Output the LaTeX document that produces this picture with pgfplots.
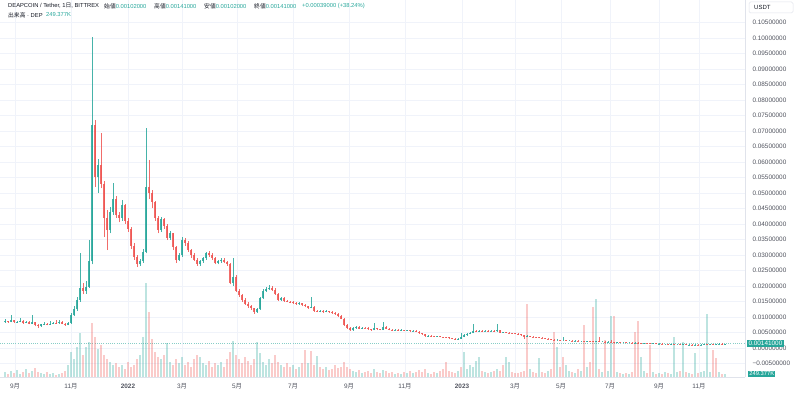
\documentclass[border=0pt]{standalone}
\usepackage{pgfplots}
\pgfplotsset{compat=1.18}
\usepackage{pgfplotstable}
\usepackage{fontspec}
\setmainfont{Liberation Sans}
\newfontfamily\cjk{Noto Sans CJK JP}
\newcommand\M{{\cjk 月}}
\definecolor{upc}{HTML}{26A69A}
\definecolor{dnc}{HTML}{EF5350}
\definecolor{gridc}{HTML}{F0F3FA}
\definecolor{axc}{HTML}{E0E3EB}
\definecolor{txt}{HTML}{131722}
\definecolor{lbl}{HTML}{50535E}
\pgfplotstableread{
x o h l c u v w
5 0.0084 0.0093 0.0082 0.0086 1 5 1
8 0.0086 0.0088 0.0081 0.0084 0 3 0
11 0.0084 0.0105 0.0083 0.0089 1 6 1
14 0.0089 0.0091 0.0080 0.0083 0 4 0
17 0.0083 0.0088 0.0081 0.0085 1 7 1
20 0.0085 0.0098 0.0083 0.0087 1 3 1
23 0.0087 0.0089 0.0079 0.0082 0 5 0
26 0.0082 0.0088 0.0080 0.0085 1 8 1
29 0.0085 0.0087 0.0076 0.0079 0 4 0
32 0.0079 0.0108 0.0077 0.0083 1 6 1
35 0.0083 0.0085 0.0070 0.0074 0 9 0
38 0.0074 0.0078 0.0064 0.0070 0 5 0
41 0.0070 0.0079 0.0068 0.0076 1 4 1
44 0.0076 0.0084 0.0074 0.0079 1 3 1
47 0.0079 0.0081 0.0073 0.0076 0 5 0
50 0.0076 0.0086 0.0075 0.0079 1 3 1
53 0.0079 0.0084 0.0077 0.0081 1 4 1
56 0.0081 0.0089 0.0078 0.0080 0 2 0
59 0.0080 0.0090 0.0079 0.0084 1 3 1
62 0.0084 0.0086 0.0076 0.0078 0 4 0
65 0.0078 0.0080 0.0071 0.0075 0 6 0
68 0.0075 0.0083 0.0073 0.0080 1 12 1
71 0.0080 0.0113 0.0079 0.0105 1 25 1
74 0.0105 0.0135 0.0102 0.0125 1 18 1
77 0.0125 0.0165 0.0120 0.0155 1 30 1
80 0.0155 0.0306 0.0150 0.0195 1 44 1
83 0.0195 0.0210 0.0173 0.0185 0 22 0
86 0.0185 0.0215 0.0175 0.0198 1 30 1
89 0.0198 0.0350 0.0195 0.0280 1 35 1
92 0.0280 0.1003 0.0270 0.0720 1 54 0
95 0.0720 0.0735 0.0520 0.0550 0 40 0
98 0.0550 0.0610 0.0500 0.0590 1 28 1
101 0.0590 0.0694 0.0515 0.0530 0 32 0
104 0.0530 0.0540 0.0358 0.0420 0 22 0
107 0.0420 0.0445 0.0316 0.0380 0 18 0
110 0.0380 0.0455 0.0370 0.0440 1 15 1
113 0.0440 0.0532 0.0430 0.0480 1 12 1
116 0.0480 0.0490 0.0420 0.0430 0 14 0
119 0.0430 0.0440 0.0405 0.0420 0 10 0
122 0.0420 0.0477 0.0410 0.0460 1 12 1
125 0.0460 0.0465 0.0400 0.0410 0 8 0
128 0.0410 0.0420 0.0375 0.0385 0 15 0
131 0.0385 0.0390 0.0320 0.0330 0 10 0
134 0.0330 0.0340 0.0285 0.0295 0 12 0
137 0.0295 0.0300 0.0261 0.0270 0 18 0
140 0.0270 0.0288 0.0265 0.0280 1 22 1
143 0.0280 0.0320 0.0275 0.0310 1 40 1
146 0.0310 0.0710 0.0305 0.0520 1 94 1
149 0.0520 0.0606 0.0480 0.0500 0 65 0
152 0.0500 0.0510 0.0450 0.0470 0 38 0
155 0.0470 0.0475 0.0410 0.0420 0 25 0
158 0.0420 0.0425 0.0370 0.0380 0 20 0
161 0.0380 0.0423 0.0375 0.0415 1 18 1
164 0.0415 0.0420 0.0385 0.0395 0 22 0
167 0.0395 0.0400 0.0348 0.0355 0 34 1
170 0.0355 0.0378 0.0350 0.0370 1 15 1
173 0.0370 0.0372 0.0316 0.0325 0 12 0
176 0.0325 0.0330 0.0274 0.0285 0 18 0
179 0.0285 0.0308 0.0280 0.0300 1 14 1
182 0.0300 0.0358 0.0295 0.0350 1 20 1
185 0.0350 0.0355 0.0330 0.0340 0 12 0
188 0.0340 0.0345 0.0310 0.0315 0 15 0
191 0.0315 0.0320 0.0290 0.0300 0 10 0
194 0.0300 0.0305 0.0280 0.0285 0 18 0
197 0.0285 0.0290 0.0265 0.0270 0 22 0
200 0.0270 0.0285 0.0265 0.0280 1 20 1
203 0.0280 0.0295 0.0275 0.0290 1 14 1
206 0.0290 0.0310 0.0285 0.0305 1 12 1
209 0.0305 0.0312 0.0295 0.0300 0 16 0
212 0.0300 0.0305 0.0285 0.0290 0 10 0
215 0.0290 0.0295 0.0270 0.0275 0 14 0
218 0.0275 0.0285 0.0270 0.0280 1 12 1
221 0.0280 0.0290 0.0275 0.0285 1 15 1
224 0.0285 0.0290 0.0273 0.0278 0 10 0
227 0.0278 0.0282 0.0265 0.0270 0 18 0
230 0.0270 0.0273 0.0205 0.0210 0 25 0
233 0.0210 0.0290 0.0200 0.0230 1 36 1
236 0.0230 0.0235 0.0180 0.0185 0 22 0
239 0.0185 0.0190 0.0165 0.0170 0 18 0
242 0.0170 0.0175 0.0150 0.0155 0 14 0
245 0.0155 0.0160 0.0140 0.0143 0 20 0
248 0.0143 0.0148 0.0130 0.0135 0 16 0
251 0.0135 0.0138 0.0123 0.0128 0 12 0
254 0.0128 0.0130 0.0110 0.0116 0 18 0
257 0.0116 0.0130 0.0113 0.0125 1 35 1
260 0.0125 0.0165 0.0123 0.0160 1 24 1
263 0.0160 0.0190 0.0158 0.0185 1 15 1
266 0.0185 0.0198 0.0182 0.0190 1 12 1
269 0.0190 0.0203 0.0187 0.0195 1 18 1
272 0.0195 0.0199 0.0184 0.0188 0 14 0
275 0.0188 0.0192 0.0172 0.0175 0 22 0
278 0.0175 0.0178 0.0152 0.0155 0 15 0
281 0.0155 0.0165 0.0152 0.0160 1 12 1
284 0.0160 0.0164 0.0149 0.0152 0 10 0
287 0.0152 0.0156 0.0147 0.0150 0 14 0
290 0.0150 0.0153 0.0145 0.0148 0 10 0
293 0.0148 0.0151 0.0143 0.0146 0 12 1
296 0.0146 0.0149 0.0140 0.0143 0 8 0
299 0.0143 0.0148 0.0140 0.0144 1 10 1
302 0.0144 0.0146 0.0135 0.0138 0 14 0
305 0.0138 0.0141 0.0131 0.0134 0 27 0
308 0.0134 0.0137 0.0127 0.0130 0 14 1
311 0.0130 0.0165 0.0128 0.0133 1 26 0
314 0.0133 0.0135 0.0117 0.0120 0 12 0
317 0.0120 0.0123 0.0115 0.0118 0 21 1
320 0.0118 0.0122 0.0115 0.0119 1 10 0
323 0.0119 0.0121 0.0114 0.0117 0 8 0
326 0.0117 0.0121 0.0115 0.0118 1 10 1
329 0.0118 0.0120 0.0113 0.0116 0 7 0
332 0.0116 0.0118 0.0111 0.0114 0 8 0
335 0.0114 0.0116 0.0107 0.0110 0 12 0
338 0.0110 0.0112 0.0100 0.0103 0 9 0
341 0.0103 0.0105 0.0092 0.0095 0 10 0
344 0.0095 0.0097 0.0072 0.0075 0 15 0
347 0.0075 0.0077 0.0062 0.0065 0 10 0
350 0.0065 0.0068 0.0055 0.0058 0 8 0
353 0.0058 0.0067 0.0056 0.0064 1 6 1
356 0.0064 0.0071 0.0062 0.0068 1 5 1
359 0.0068 0.0070 0.0060 0.0062 0 7 0
362 0.0062 0.0069 0.0060 0.0066 1 4 1
365 0.0066 0.0069 0.0063 0.0065 0 5 0
368 0.0065 0.0067 0.0058 0.0060 0 6 0
371 0.0060 0.0062 0.0056 0.0058 0 4 0
374 0.0058 0.0080 0.0057 0.0064 1 8 1
377 0.0064 0.0066 0.0058 0.0060 0 5 0
380 0.0060 0.0062 0.0057 0.0059 0 4 0
383 0.0059 0.0084 0.0058 0.0068 1 7 1
386 0.0068 0.0070 0.0060 0.0062 0 6 0
389 0.0062 0.0064 0.0057 0.0059 0 4 0
392 0.0059 0.0061 0.0056 0.0058 0 5 0
395 0.0058 0.0061 0.0057 0.0059 1 3 1
398 0.0059 0.0060 0.0055 0.0057 0 4 0
401 0.0057 0.0060 0.0056 0.0058 1 3 1
404 0.0058 0.0059 0.0054 0.0056 0 5 0
407 0.0056 0.0059 0.0055 0.0057 1 4 1
410 0.0057 0.0058 0.0053 0.0055 0 6 0
413 0.0055 0.0058 0.0054 0.0056 1 4 1
416 0.0056 0.0057 0.0051 0.0053 0 5 0
419 0.0053 0.0054 0.0046 0.0048 0 7 0
422 0.0048 0.0049 0.0042 0.0044 0 5 0
425 0.0044 0.0045 0.0035 0.0038 0 8 0
428 0.0038 0.0043 0.0037 0.0040 1 4 1
431 0.0040 0.0041 0.0037 0.0039 0 3 0
434 0.0039 0.0040 0.0035 0.0037 0 5 0
437 0.0037 0.0040 0.0036 0.0038 1 4 1
440 0.0038 0.0039 0.0034 0.0036 0 6 0
443 0.0036 0.0037 0.0033 0.0035 0 8 0
446 0.0035 0.0036 0.0032 0.0034 0 15 0
449 0.0034 0.0035 0.0030 0.0032 0 6 0
452 0.0032 0.0033 0.0028 0.0030 0 5 0
455 0.0030 0.0031 0.0027 0.0029 0 4 0
458 0.0029 0.0032 0.0027 0.0030 1 6 1
461 0.0030 0.0048 0.0029 0.0036 1 10 0
464 0.0036 0.0044 0.0034 0.0042 1 25 1
467 0.0042 0.0048 0.0040 0.0046 1 8 1
470 0.0046 0.0051 0.0044 0.0048 1 12 1
473 0.0048 0.0077 0.0047 0.0056 1 10 1
476 0.0056 0.0059 0.0053 0.0055 0 16 1
479 0.0055 0.0059 0.0053 0.0056 1 20 1
482 0.0056 0.0058 0.0053 0.0055 0 6 0
485 0.0055 0.0058 0.0054 0.0056 1 5 1
488 0.0056 0.0057 0.0053 0.0055 0 4 0
491 0.0055 0.0058 0.0054 0.0056 1 5 1
494 0.0056 0.0057 0.0052 0.0054 0 6 0
497 0.0054 0.0076 0.0053 0.0057 1 8 1
500 0.0057 0.0058 0.0048 0.0050 0 6 0
503 0.0050 0.0053 0.0049 0.0051 1 12 0
506 0.0051 0.0052 0.0048 0.0050 0 20 1
509 0.0050 0.0051 0.0047 0.0049 0 15 1
512 0.0049 0.0050 0.0046 0.0048 0 5 0
515 0.0048 0.0049 0.0044 0.0046 0 4 0
518 0.0046 0.0047 0.0042 0.0044 0 4 0
521 0.0044 0.0045 0.0040 0.0042 0 5 0
524 0.0042 0.0043 0.0030 0.0036 0 6 0
527 0.0036 0.0041 0.0034 0.0039 1 73 0
530 0.0039 0.0040 0.0035 0.0037 0 8 1
533 0.0037 0.0038 0.0034 0.0036 0 5 0
536 0.0036 0.0037 0.0033 0.0035 0 4 0
539 0.0035 0.0036 0.0032 0.0033 0 19 1
542 0.0033 0.0034 0.0031 0.0032 0 5 0
545 0.0032 0.0033 0.0029 0.0030 0 4 0
548 0.0030 0.0031 0.0028 0.0029 0 6 1
551 0.0029 0.0030 0.0026 0.0027 0 8 0
554 0.0027 0.0030 0.0025 0.0026 0 45 0
557 0.0026 0.0028 0.0024 0.0026 1 30 1
560 0.0026 0.0027 0.0024 0.0025 0 10 0
563 0.0025 0.0035 0.0024 0.0025 1 20 0
566 0.0025 0.0026 0.0023 0.0024 0 12 1
569 0.0024 0.0025 0.0023 0.0024 1 6 1
572 0.0024 0.0025 0.0022 0.0023 0 5 0
575 0.0023 0.0025 0.0022 0.0024 1 4 1
578 0.0024 0.0025 0.0022 0.0023 0 8 0
581 0.0023 0.0024 0.0022 0.0023 1 6 1
584 0.0023 0.0024 0.0021 0.0022 0 52 0
587 0.0022 0.0024 0.0021 0.0023 1 10 1
590 0.0023 0.0024 0.0021 0.0022 0 15 0
593 0.0022 0.0023 0.0020 0.0021 0 70 0
596 0.0021 0.0023 0.0020 0.0022 1 78 1
599 0.0022 0.0036 0.0019 0.0020 0 8 0
602 0.0020 0.0021 0.0019 0.0020 1 5 1
605 0.0020 0.0021 0.0018 0.0019 0 37 0
608 0.0019 0.0021 0.0018 0.0020 1 6 1
611 0.0020 0.0025 0.0018 0.0019 0 61 1
614 0.0019 0.0020 0.0017 0.0018 0 61 0
617 0.0018 0.0020 0.0017 0.0019 1 5 1
620 0.0019 0.0020 0.0017 0.0018 0 4 0
623 0.0018 0.0019 0.0017 0.0018 1 3 1
626 0.0018 0.0019 0.0016 0.0017 0 4 0
629 0.0017 0.0018 0.0016 0.0017 1 3 1
632 0.0017 0.0018 0.0015 0.0016 0 5 0
635 0.0016 0.0018 0.0015 0.0017 1 45 0
638 0.0017 0.0018 0.0015 0.0016 0 56 0
641 0.0016 0.0017 0.0014 0.0015 0 20 1
644 0.0015 0.0017 0.0014 0.0016 1 6 1
647 0.0016 0.0017 0.0014 0.0015 0 4 0
650 0.0015 0.0016 0.0013 0.0014 0 32 0
653 0.0014 0.0016 0.0013 0.0015 1 5 1
656 0.0015 0.0016 0.0012 0.0013 0 3 0
659 0.0013 0.0015 0.0012 0.0014 1 4 1
662 0.0014 0.0015 0.0012 0.0013 0 3 0
665 0.0013 0.0014 0.0012 0.0013 1 5 1
668 0.0013 0.0014 0.0011 0.0012 0 4 0
671 0.0012 0.0014 0.0011 0.0013 1 3 1
674 0.0013 0.0014 0.0011 0.0012 0 40 1
677 0.0012 0.0013 0.0011 0.0012 1 5 1
680 0.0012 0.0013 0.0010 0.0011 0 6 0
683 0.0011 0.0013 0.0010 0.0012 1 35 1
686 0.0012 0.0013 0.0009 0.0010 0 5 0
689 0.0010 0.0012 0.0009 0.0011 1 4 1
692 0.0011 0.0012 0.0009 0.0010 0 3 0
695 0.0010 0.0012 0.0009 0.0011 1 24 1
698 0.0011 0.0012 0.0009 0.0010 0 4 0
701 0.0010 0.0012 0.0009 0.0011 1 5 1
704 0.0011 0.0014 0.0010 0.0012 1 6 1
707 0.0012 0.0013 0.0010 0.0011 0 63 1
710 0.0011 0.0014 0.0010 0.0013 1 5 1
713 0.0013 0.0014 0.0011 0.0012 0 27 0
716 0.0012 0.0014 0.0011 0.0013 1 19 0
719 0.0013 0.0015 0.0012 0.0014 1 5 1
722 0.0014 0.0015 0.00100 0.00102 0 3 0
725 0.00102 0.00141 0.00102 0.00141 1 3 1
}\candles
\begin{document}
\begin{tikzpicture}
\useasboundingbox (0,0) rectangle (800pt,394pt);
\pgfplotsset{base/.style={scale only axis, width=745pt, height=377pt,
  at={(0pt,17pt)}, anchor=south west, xmin=0, xmax=745}}
% grid and price scale
\begin{axis}[base, ymin=-0.009355, ymax=0.112258,
  axis x line*=bottom, axis y line*=right,
  axis line style={draw=axc, line width=0.6pt},
  major tick length=0pt,
  xtick={15,71,128,182,237,293,349,405,462,515,561,610,659,699},
  xticklabels={{9\M},{11\M},{\textbf{2022}},{3\M},{5\M},{7\M},{9\M},{11\M},{\textbf{2023}},{3\M},{5\M},{7\M},{9\M},{11\M}},
  ytick={-0.005,0,0.005,0.01,0.015,0.02,0.025,0.03,0.035,0.04,0.045,0.05,0.055,0.06,0.065,0.07,0.075,0.08,0.085,0.09,0.095,0.1,0.105},
  yticklabels={−0.00500000,0.00000000,0.00500000,0.01000000,0.01500000,0.02000000,0.02500000,0.03000000,0.03500000,0.04000000,0.04500000,0.05000000,0.05500000,0.06000000,0.06500000,0.07000000,0.07500000,0.08000000,0.08500000,0.09000000,0.09500000,0.10000000,0.10500000},
  grid=major, major grid style={draw=gridc, line width=0.7pt},
  tick label style={font=\fontsize{6.4}{7}\selectfont, text=lbl},
  xticklabel style={yshift=-3pt},
  yticklabel style={anchor=west, xshift=4pt},
]
\addplot[draw=upc!55, line width=0.5pt, dash pattern=on 1pt off 1.2pt] coordinates {(0,0.00141) (745,0.00141)};
\end{axis}
% volume
\begin{axis}[base, ymin=0, ymax=377, axis lines=none, ticks=none,
  colormap={vud}{color(0)=(dnc) color(1)=(upc)}, point meta min=0, point meta max=1]
\addplot[line width=1.6pt, opacity=0.3, point meta=\thisrow{w},
  quiver={u=0, v=\thisrow{v}, colored=mapped color}] table[x=x, y expr=0] {\candles};
\end{axis}
% candles
\begin{axis}[base, ymin=-0.009355, ymax=0.112258, axis lines=none, ticks=none,
  colormap={ud}{color(0)=(dnc) color(1)=(upc)}, point meta min=0, point meta max=1]
\addplot[line width=0.5pt, opacity=0.85, point meta=\thisrow{u},
  quiver={u=0, v=\thisrow{h}-\thisrow{l}, colored=mapped color}] table[x=x, y=l] {\candles};
\addplot[line width=1.2pt, opacity=0.85, point meta=\thisrow{u},
  quiver={u=0, v=\thisrow{c}-\thisrow{o}, colored=mapped color}] table[x=x, y=o] {\candles};
\end{axis}
% header
\begin{scope}[every node/.style={anchor=west, inner sep=0pt, font=\fontsize{5.8}{7}\selectfont, text=txt}]
\node at (8pt,388pt) {DEAPCOIN / Tether, 1{\cjk 日}, BITTREX};
\node at (104pt,388pt) {{\cjk 始値}\textcolor{upc}{0.00102000}};
\node at (154pt,388pt) {{\cjk 高値}\textcolor{upc}{0.00141000}};
\node at (204pt,388pt) {{\cjk 安値}\textcolor{upc}{0.00102000}};
\node at (254pt,388pt) {{\cjk 終値}\textcolor{upc}{0.00141000}};
\node[text=upc] at (302pt,388pt) {+0.00039000 (+38.24\%)};
\node at (8pt,379pt) {{\cjk 出来高} · DEP};
\node[text=upc] at (46pt,379pt) {249.377K};
\end{scope}
% right-side labels
\draw[draw=axc, rounded corners=1.5pt, line width=0.5pt] (749pt,381pt) rectangle (793pt,392pt);
\node[anchor=west, inner sep=0pt, font=\fontsize{6}{7}\selectfont, text=txt] at (754pt,386.5pt) {USDT};
\node[anchor=west, fill=upc, text=white, inner sep=1.3pt, font=\fontsize{6.4}{7}\selectfont] at (747pt,50.4pt) {0.00141000};
\node[anchor=west, fill=upc, text=white, inner sep=1.1pt, font=\fontsize{5.8}{6.5}\selectfont] at (748pt,20pt) {249.377K};
\end{tikzpicture}
\end{document}
